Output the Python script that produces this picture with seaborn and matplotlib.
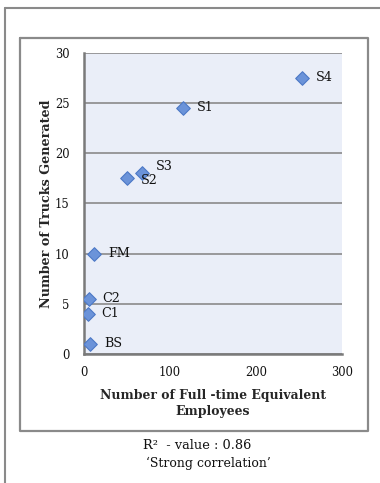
import matplotlib
matplotlib.use("Agg")
import matplotlib.pyplot as plt
from matplotlib.lines import Line2D
import seaborn as sns
import pandas as pd

# Sites, staff size and truck trips
sites = ["BS", "C1", "C2", "FM", "S2", "S3", "S1", "S4"]
employees = [8, 5, 6, 12.5, 51, 67.5, 115, 254]
trucks = [1, 4, 5.5, 10, 17.5, 18, 24.5, 27.5]
# label offsets in points (dx, dy)
label_dx = [10, 10, 10, 10, 10, 10, 10, 10]
label_dy = [0, 0, 0, 0, -1.5, 5, 0, 0]

x_ticks = [0, 100, 200, 300]
y_ticks = [0, 5, 10, 15, 20, 25, 30]

df = pd.DataFrame({"site": sites, "employees": employees, "trucks": trucks})

sns.set_style("white")
plt.rcParams["font.family"] = ["DejaVu Serif"]

fig = plt.figure(figsize=(3.8, 4.83), dpi=100)
W, H = 380, 483

def fx(px):
    return px / W

def fy(py):
    return 1 - py / H

ax = fig.add_axes([fx(83.5), fy(354), fx(342) - fx(83.5), fy(52.7) - fy(354)])
ax.set_facecolor("#eaeef8")

sns.scatterplot(data=df, x="employees", y="trucks", marker="D", s=48,
                color="#6b93d9", edgecolor="#4d79c6", linewidth=0.8,
                ax=ax, zorder=3, legend=False)

for name, x, y, dx, dy in zip(sites, employees, trucks, label_dx, label_dy):
    ax.annotate(name, (x, y), xytext=(dx, dy), textcoords="offset points",
                ha="left", va="center", fontsize=9.2, color="#111111", zorder=4)

ax.set_xlim(0, 300)
ax.set_ylim(0, 30)
ax.set_xticks(x_ticks)
ax.set_yticks(y_ticks)
ax.yaxis.grid(True, color="#8a8a8a", linewidth=1.2)
ax.set_axisbelow(True)
for side in ["top", "right"]:
    ax.spines[side].set_visible(False)
ax.spines["left"].set_color("#7a7a7a")
ax.spines["left"].set_linewidth(1.8)
ax.spines["bottom"].set_color("#7a7a7a")
ax.spines["bottom"].set_linewidth(1.8)
ax.tick_params(axis="both", direction="out", length=4, width=1.2, color="#7a7a7a",
               labelsize=8.3, labelcolor="#111111")
ax.tick_params(axis="y", pad=6)
ax.tick_params(axis="x", pad=5)

ax.set_xlabel("Number of Full -time Equivalent\nEmployees", fontsize=8.9,
              fontweight="bold", labelpad=7, linespacing=1.3)
ax.set_ylabel("Number of Trucks Generated", fontsize=9.2, fontweight="bold",
              labelpad=1.5)

# Outer frame (top and left rule)
fig.add_artist(Line2D([fx(4.5), 1.0], [fy(7.5), fy(7.5)], color="#8a8a8a", lw=1.5))
fig.add_artist(Line2D([fx(4.5), fx(4.5)], [fy(7.5), 0.0], color="#8a8a8a", lw=1.5))
# Chart box
fig.add_artist(Line2D([fx(20), fx(367.5), fx(367.5), fx(20), fx(20)],
                      [fy(38), fy(38), fy(431), fy(431), fy(38)],
                      color="#8a8a8a", lw=1.6))

fig.text(fx(197), fy(445.5), "R\u00b2  - value : 0.86", ha="center", va="center",
         fontsize=9.3, color="#111111")
fig.text(fx(208), fy(463), "\u2018Strong correlation\u2019", ha="center", va="center",
         fontsize=9, color="#111111")

fig.savefig("out.png", dpi=100)
